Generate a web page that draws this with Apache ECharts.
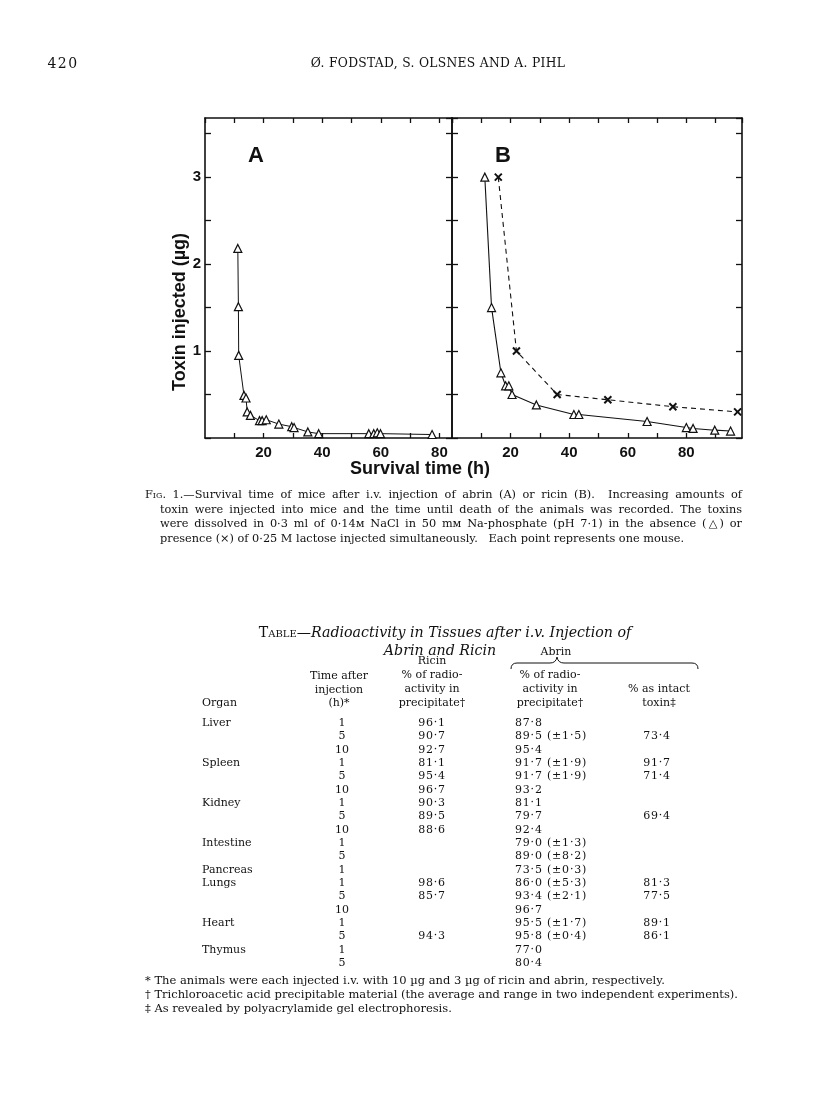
<!DOCTYPE html>
<html>
<head>
<meta charset="utf-8">
<script src="https://cdn.jsdelivr.net/npm/echarts@6/dist/echarts.min.js"></script>
<style>
  html, body { margin:0; padding:0; background:#fff; }
  body { width:816px; height:1111px; position:relative; overflow:hidden; }
  #chart { position:absolute; left:0; top:0; width:816px; height:1111px; z-index:0; }
  .t { position:absolute; z-index:2; font-family:"DejaVu Serif", serif; color:#111; white-space:nowrap; line-height:14px; transform:translateY(-50%); }
  .c { transform:translate(-50%,-50%); }
  .j { text-align:justify; text-align-last:justify; }
  #brace { position:absolute; left:0; top:0; z-index:1; }
</style>
</head>
<body>
<div id="chart"></div>
<svg id="brace" width="816" height="1111"><path d="M511,669 Q511,663 517,663 L550,663 Q556,663 557,657 Q558,663 564,663 L692,663 Q698,663 698,669" fill="none" stroke="#111" stroke-width="1"/></svg>
<script>
// ---------- Chart data ----------
// Panel A: abrin, survival time (h) and toxin injected (µg)
const abrinTime = [11.2, 11.4, 11.5, 13.3, 14.0, 14.4, 15.5, 18.6, 19.5, 20.9, 25.2, 29.6, 30.4, 35.1, 38.8, 55.9, 57.6, 58.8, 59.9, 77.5];
const abrinDose = [2.18, 1.51, 0.95, 0.49, 0.46, 0.30, 0.26, 0.20, 0.20, 0.21, 0.16, 0.13, 0.12, 0.07, 0.05, 0.05, 0.05, 0.06, 0.05, 0.04];
// Panel B: ricin without lactose (triangles)
const ricinTime = [11.2, 13.5, 16.7, 18.3, 19.4, 20.5, 28.8, 41.6, 43.3, 66.6, 80.0, 82.3, 89.7, 95.1];
const ricinDose = [3.0, 1.5, 0.75, 0.6, 0.6, 0.5, 0.38, 0.27, 0.27, 0.19, 0.12, 0.11, 0.09, 0.08];
// Panel B: ricin with 0.25 M lactose (crosses)
const lactoseTime = [15.8, 22.0, 35.9, 53.2, 75.4, 97.5];
const lactoseDose = [3.0, 1.0, 0.5, 0.44, 0.36, 0.30];
const xTickLabels = [20, 40, 60, 80];
const yTickLabels = [1, 2, 3];

// ---------- Table data ----------
const organs = ['Liver','','','Spleen','','','Kidney','','','Intestine','','Pancreas','Lungs','','','Heart','','Thymus',''];
const times = ['1','5','10','1','5','10','1','5','10','1','5','1','1','5','10','1','5','1','5'];
const ricinPct = ['96·1','90·7','92·7','81·1','95·4','96·7','90·3','89·5','88·6','','','','98·6','85·7','','','94·3','',''];
const abrinPct = ['87·8','89·5 (±1·5)','95·4','91·7 (±1·9)','91·7 (±1·9)','93·2','81·1','79·7','92·4','79·0 (±1·3)','89·0 (±8·2)','73·5 (±0·3)','86·0 (±5·3)','93·4 (±2·1)','96·7','95·5 (±1·7)','95·8 (±0·4)','77·0','80·4'];
const abrinIntact = ['','73·4','','91·7','71·4','','','69·4','','','','','81·3','77·5','','89·1','86·1','',''];

const zip = (a, b) => a.map((v, i) => [v, b[i]]);

const chart = echarts.init(document.getElementById('chart'), null, {renderer:'canvas'});
const black = '#111';
const labelFont = {fontFamily:'Liberation Sans, Arial, sans-serif', fontWeight:'bold', fontSize:15, color:black};

function xAx(grid, max, pos, showLabel) {
  return {
    gridIndex:grid, type:'value', min:0, max:max, interval:10, position:pos,
    axisLine:{show:true, onZero:false, lineStyle:{color:black, width:1.6}},
    axisTick:{show:true, inside:true, length:5, lineStyle:{color:black, width:1.3}},
    splitLine:{show:false},
    axisLabel:Object.assign({show:showLabel, margin:7, showMinLabel:false, showMaxLabel:false,
      formatter: v => xTickLabels.indexOf(Math.round(v)) >= 0 && Math.abs(v - Math.round(v)) < 1e-6 ? String(Math.round(v)) : ''}, labelFont)
  };
}
function yAx(grid, pos, showLabel) {
  return {
    gridIndex:grid, type:'value', min:0, max:3.68, interval:0.5, position:pos,
    axisLine:{show:true, onZero:false, lineStyle:{color:black, width:1.6}},
    axisTick:{show:true, inside:true, length:6, lineStyle:{color:black, width:1.3}},
    splitLine:{show:false},
    axisLabel:Object.assign({show:showLabel, margin:4, showMaxLabel:false,
      formatter: v => yTickLabels.indexOf(v) >= 0 ? String(v) : ''}, labelFont)
  };
}

const triStyle = {color:'#fff', borderColor:black, borderWidth:1.2};
const option = {
  animation:false,
  backgroundColor:'transparent',
  grid:[
    {left:205, top:118, width:247, height:320},
    {left:452, top:118, width:290, height:320}
  ],
  xAxis:[ xAx(0, 84.3, 'bottom', true), xAx(0, 84.3, 'top', false), xAx(1, 99, 'bottom', true), xAx(1, 99, 'top', false) ],
  yAxis:[ yAx(0, 'left', true), yAx(0, 'right', false), yAx(1, 'left', false), yAx(1, 'right', false) ],
  series:[
    {type:'line', name:'Abrin', xAxisIndex:0, yAxisIndex:0, data:zip(abrinTime, abrinDose),
     symbol:'triangle', symbolSize:8, showSymbol:true, itemStyle:triStyle,
     lineStyle:{color:black, width:1}, z:3},
    {type:'line', name:'Ricin', xAxisIndex:2, yAxisIndex:2, data:zip(ricinTime, ricinDose),
     symbol:'triangle', symbolSize:8, showSymbol:true, itemStyle:triStyle,
     lineStyle:{color:black, width:1.1}, z:3},
    {type:'line', name:'Ricin + lactose', xAxisIndex:2, yAxisIndex:2, data:zip(lactoseTime, lactoseDose),
     symbol:'path://M0,0L10,10M10,0L0,10', symbolSize:7, showSymbol:true,
     itemStyle:{color:black, borderColor:black, borderWidth:2},
     lineStyle:{color:black, width:1.1, type:[5,4]}, z:3}
  ],
  graphic:[
    {type:'text', x:256, y:156, style:{text:'A', font:'bold 22px "Liberation Sans", Arial, sans-serif', fill:black, align:'center', verticalAlign:'middle'}},
    {type:'text', x:503, y:156, style:{text:'B', font:'bold 22px "Liberation Sans", Arial, sans-serif', fill:black, align:'center', verticalAlign:'middle'}},
    {type:'text', x:180, y:312, rotation:Math.PI/2, style:{text:'Toxin injected (µg)', font:'bold 18px "Liberation Sans", Arial, sans-serif', fill:black, align:'center', verticalAlign:'middle'}},
    {type:'text', x:420, y:469, style:{text:'Survival time (h)', font:'bold 18px "Liberation Sans", Arial, sans-serif', fill:black, align:'center', verticalAlign:'middle'}}
  ]
};
chart.setOption(option);

// ---------- Page text ----------
function put(text, x, y, opts) {
  opts = opts || {};
  const d = document.createElement('div');
  d.className = 't' + (opts.center ? ' c' : '') + (opts.justify ? ' j' : '');
  d.textContent = text;
  d.style.left = x + 'px';
  d.style.top = y + 'px';
  if (opts.width) d.style.width = opts.width + 'px';
  if (opts.size) d.style.fontSize = opts.size + 'px';
  if (opts.style) Object.assign(d.style, opts.style);
  document.body.appendChild(d);
  return d;
}
function putHTML(html, x, y, opts) { const d = put('', x, y, opts); d.innerHTML = html; return d; }

put('420', 63, 63, {center:true, size:14, style:{letterSpacing:'1.5px'}});
put('Ø. FODSTAD, S. OLSNES AND A. PIHL', 438, 63, {center:true, size:12.3, style:{letterSpacing:'0.3px'}});

const capSize = 11.3;
const cap = [
  'Fig. 1.—Survival time of mice after i.v. injection of abrin (A) or ricin (B).   Increasing amounts of',
  'toxin were injected into mice and the time until death of the animals was recorded.   The toxins',
  'were dissolved in 0·3 ml of 0·14м NaCl in 50 mм Na-phosphate (pH 7·1) in the absence (△) or',
  'presence (×) of 0·25 M lactose injected simultaneously.   Each point represents one mouse.'
];
putHTML('<span style="font-variant:small-caps">Fig.</span> 1.—Survival time of mice after i.v. injection of abrin (A) or ricin (B).&nbsp; Increasing amounts of', 145, 495, {justify:true, width:597, size:capSize});
put(cap[1], 160, 509.5, {justify:true, width:582, size:capSize});
put(cap[2], 160, 524, {justify:true, width:582, size:capSize});
put(cap[3].replace('.   ', '.\u00a0\u00a0 '), 160, 538.5, {size:capSize});

putHTML('<span style="font-style:normal;font-variant:small-caps">Table</span>—Radioactivity in Tissues after i.v. Injection of', 445, 632, {center:true, size:14.2, style:{fontStyle:'italic'}});
put('Abrin and Ricin', 440, 650, {center:true, size:14.2, style:{fontStyle:'italic'}});

const hs = 11;
put('Abrin', 556, 652, {center:true, size:hs});
put('Ricin', 432, 661, {center:true, size:hs});
['Time after','injection','(h)*'].forEach((s,i)=>put(s, 339, 676 + i*13.5, {center:true, size:hs}));
['% of radio-','activity in','precipitate†'].forEach((s,i)=>put(s, 432, 675 + i*14, {center:true, size:hs}));
['% of radio-','activity in','precipitate†'].forEach((s,i)=>put(s, 550, 675 + i*14, {center:true, size:hs}));
put('% as intact', 659, 689, {center:true, size:hs});
put('toxin‡', 659, 703, {center:true, size:hs});
put('Organ', 202, 703, {size:hs});

organs.forEach((o, i) => {
  const y = 723 + i * 13.33;
  if (o) put(o, 202, y, {size:hs});
  put(times[i], 342, y, {center:true, size:hs});
  if (ricinPct[i]) put(ricinPct[i], 432, y, {center:true, size:hs, style:{letterSpacing:'0.8px'}});
  if (abrinPct[i]) put(abrinPct[i], 515, y, {size:hs, style:{letterSpacing:'0.8px'}});
  if (abrinIntact[i]) put(abrinIntact[i], 657, y, {center:true, size:hs, style:{letterSpacing:'0.8px'}});
});

const fnSize = 11.5;
put('* The animals were each injected i.v. with 10 µg and 3 µg of ricin and abrin, respectively.', 145, 980, {size:fnSize});
put('† Trichloroacetic acid precipitable material (the average and range in two independent experiments).', 145, 994, {size:fnSize});
put('‡ As revealed by polyacrylamide gel electrophoresis.', 145, 1007.5, {size:fnSize});
</script>
</body>
</html>
